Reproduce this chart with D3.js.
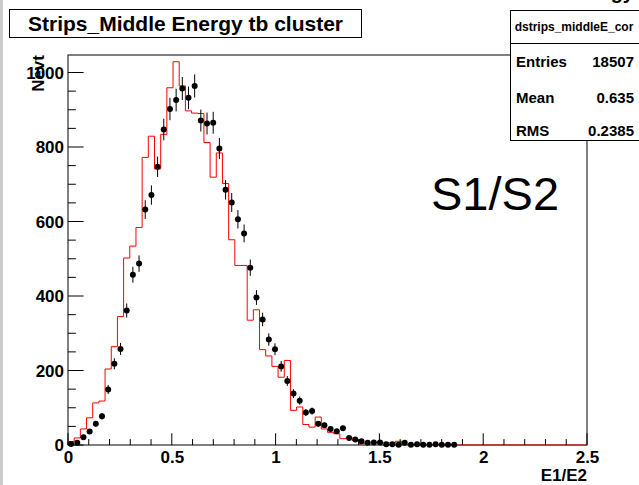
<!DOCTYPE html>
<html>
<head>
<meta charset="utf-8">
<script src="https://cdn.jsdelivr.net/npm/d3@7"></script>
<style>
html,body{margin:0;padding:0;background:#fff;}
svg{display:block;}
text{font-family:"Liberation Sans",Arial,Helvetica,sans-serif;}
</style>
</head>
<body>
<svg id="c" width="639" height="485"></svg>
<script>
// ---- data ----
const chartTitle = "Strips_Middle Energy tb cluster";
const histName = "dstrips_middleE_cor";
const statLabels = ["Entries", "Mean", "RMS"];
const statValues = ["18507", "0.635", "0.2385"];
const xTitle = "E1/E2";
const yTitle = "Nevt";
const annotation = "S1/S2";
const xTicks = [0, 0.5, 1, 1.5, 2, 2.5];
const xTickLabels = ["0", "0.5", "1", "1.5", "2", "2.5"];
const yTicks = [0, 200, 400, 600, 800, 1000];
const yTickLabels = ["0", "200", "400", "600", "800", "1000"];
const xMin = 0, xMax = 2.5, nBins = 84;
const yMax = 1047;
// black points (data), per bin from bin 0
const dataCounts = [3, 6, 21, 36, 57, 77, 149, 218, 258, 361, 457, 487, 632, 671, 747, 847, 902, 926, 957, 932,
  964, 871, 863, 865, 796, 685, 651, 606, 568, 476, 396, 337, 283, 257, 211, 172, 138, 119, 87, 91,
  57, 53, 43, 37, 45, 19, 15, 10, 6, 7, 7, 2, 2, 1, 6, 1, 2, 1, 1, 2, 1, 1, 1];
// red histogram (simulation), per bin from bin 0
const simCounts = [9, 19, 43, 73, 113, 118, 204, 264, 345, 502, 534, 584, 772, 829, 741, 834, 959, 1029, 964, 897,
  891, 890, 812, 719, 784, 702, 551, 482, 482, 335, 363, 256, 239, 211, 182, 227, 93, 102, 55, 48,
  75, 43, 34, 30, 17, 20, 12, 3, 6, 6, 8, 6, 5, 10, 2, 1, 1];

// ---- drawing ----
const svg = d3.select("#c");
const frame = {left: 68, right: 587, top: 55, bottom: 445};
const x = d3.scaleLinear().domain([xMin, xMax]).range([frame.left, frame.right]);
const y = d3.scaleLinear().domain([0, yMax]).range([frame.bottom, frame.top]);
const bw = (xMax - xMin) / nBins;

// left pad border strip
svg.append("rect").attr("x", 0).attr("y", 0).attr("width", 3).attr("height", 485).attr("fill", "#cccccc");

// frame
svg.append("rect").attr("x", frame.left).attr("y", frame.top)
  .attr("width", frame.right - frame.left).attr("height", frame.bottom - frame.top)
  .attr("fill", "none").attr("stroke", "#000").attr("stroke-width", 1);

// red step histogram
const sim = d3.range(nBins).map(i => simCounts[i] || 0);
let p = d3.path();
p.moveTo(x(xMin), y(0));
sim.forEach((v, i) => {
  p.lineTo(x(xMin + i * bw), y(v));
  p.lineTo(x(xMin + (i + 1) * bw), y(v));
});
svg.append("path").attr("d", p.toString()).attr("fill", "none")
  .attr("stroke", "#ff0000").attr("stroke-width", 1);

// x axis
const xAxis = d3.axisBottom(x).tickValues(xTicks).tickFormat((d, i) => xTickLabels[i]).tickSize(0);
const gx = svg.append("g").attr("transform", `translate(0,${frame.bottom})`).call(xAxis);
gx.select(".domain").remove();
gx.selectAll("text").attr("font-size", 17).attr("font-weight", "bold").attr("dy", 0).attr("y", 18)
  .attr("fill", "#000");
const xMinor = d3.range(0, 26).map(i => i * 0.1);
svg.append("g").selectAll("line").data(xMinor).join("line")
  .attr("x1", d => x(d)).attr("x2", d => x(d))
  .attr("y1", frame.bottom).attr("y2", (d, i) => frame.bottom - (i % 5 === 0 ? 11.7 : 5.9))
  .attr("stroke", "#000");

// y axis
const yAxis = d3.axisLeft(y).tickValues(yTicks).tickFormat((d, i) => yTickLabels[i]).tickSize(0);
const gy = svg.append("g").attr("transform", `translate(${frame.left},0)`).call(yAxis);
gy.select(".domain").remove();
gy.selectAll("text").attr("font-size", 17).attr("font-weight", "bold").attr("x", -4).attr("dy", "0.35em")
  .attr("fill", "#000");
const yMinor = d3.range(0, 21).map(i => i * 50);
svg.append("g").selectAll("line").data(yMinor).join("line")
  .attr("y1", d => y(d)).attr("y2", d => y(d))
  .attr("x1", frame.left).attr("x2", (d, i) => frame.left + (i % 4 === 0 ? 15.6 : 7.8))
  .attr("stroke", "#000");

// data points with error bars
const pts = dataCounts.map((v, i) => ({cx: xMin + (i + 0.5) * bw, v}));
svg.append("g").selectAll("line").data(pts).join("line")
  .attr("x1", d => x(d.cx)).attr("x2", d => x(d.cx))
  .attr("y1", d => y(d.v + Math.sqrt(d.v))).attr("y2", d => y(Math.max(0, d.v - Math.sqrt(d.v))))
  .attr("stroke", "#000").attr("stroke-width", 1);
svg.append("g").selectAll("circle").data(pts).join("circle")
  .attr("cx", d => x(d.cx)).attr("cy", d => y(d.v)).attr("r", 3).attr("fill", "#000");

// axis titles
svg.append("text").attr("x", frame.right).attr("y", 481).attr("text-anchor", "end")
  .attr("font-size", 17).attr("font-weight", "bold").text(xTitle);
svg.append("text").attr("transform", `translate(44,${frame.top}) rotate(-90)`).attr("text-anchor", "end")
  .attr("font-size", 17).attr("font-weight", "bold").text(yTitle);

// annotation
svg.append("text").attr("x", 431).attr("y", 210).attr("font-size", 47).text(annotation);

// title box
svg.append("rect").attr("x", 9.5).attr("y", 9.5).attr("width", 352).attr("height", 28)
  .attr("fill", "#fff").attr("stroke", "#000");
svg.append("text").attr("x", 185.5).attr("y", 31).attr("text-anchor", "middle")
  .attr("font-size", 21).attr("font-weight", "bold").text(chartTitle);

// partial text at top right (cut off by the canvas edge, as in the reference)
svg.append("text").attr("x", 634).attr("y", -1).attr("text-anchor", "end")
  .attr("font-size", 20).attr("font-weight", "bold").text("Energy");

// stats box
const sb = {x: 510.5, y: 10.5, w: 140, h: 130};
svg.append("rect").attr("x", sb.x).attr("y", sb.y).attr("width", sb.w).attr("height", sb.h)
  .attr("fill", "#fff").attr("stroke", "#000");
svg.append("line").attr("x1", sb.x).attr("x2", sb.x + sb.w).attr("y1", 43.5).attr("y2", 43.5).attr("stroke", "#000");
svg.append("text").attr("x", 574).attr("y", 31).attr("text-anchor", "middle")
  .attr("font-size", 12).attr("font-weight", "bold").text(histName);
const rowsY = [67, 103, 136];
statLabels.forEach((s, i) => {
  svg.append("text").attr("x", 516).attr("y", rowsY[i]).attr("font-size", 15).attr("font-weight", "bold").text(s);
  svg.append("text").attr("x", 634).attr("y", rowsY[i]).attr("text-anchor", "end")
    .attr("font-size", 15).attr("font-weight", "bold").text(statValues[i]);
});
</script>
</body>
</html>
